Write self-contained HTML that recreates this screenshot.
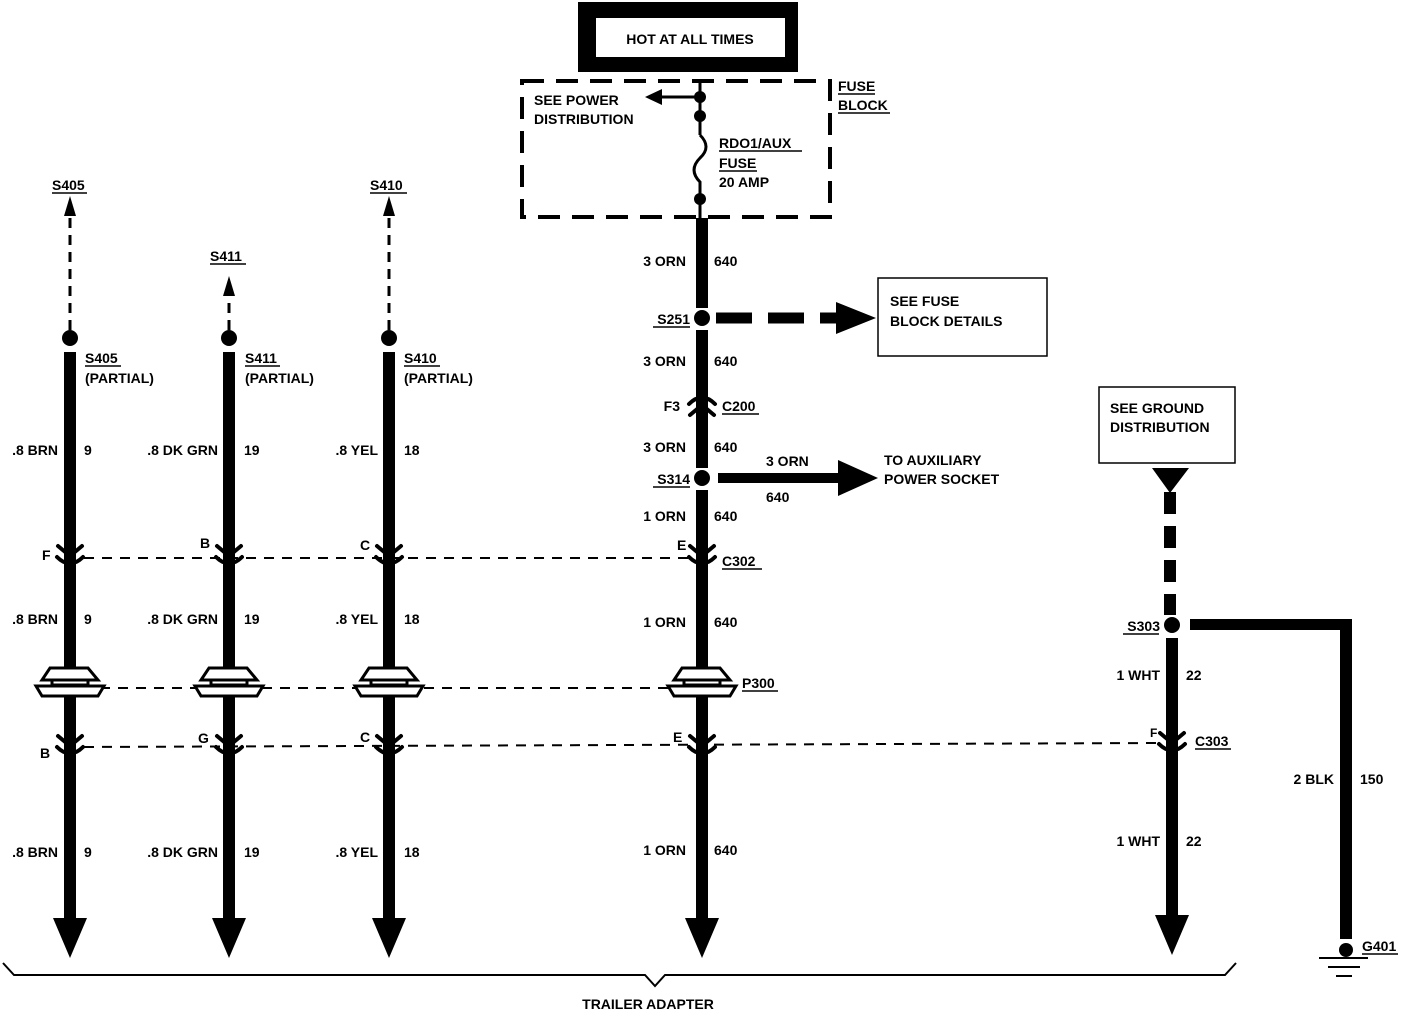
<!DOCTYPE html>
<html><head><meta charset="utf-8"><style>
html,body{margin:0;padding:0;background:#fff}
svg{display:block}
text{font-family:"Liberation Sans",sans-serif;font-weight:bold;font-size:14px;fill:#000}
</style></head><body>
<svg width="1408" height="1010" viewBox="0 0 1408 1010" xmlns="http://www.w3.org/2000/svg">
<defs>
<g id="cdown" fill="none" stroke="#000" stroke-width="4" stroke-linecap="round">
<path d="M-12,-10 L0,0 L12,-10"/>
<path d="M-13,1 Q0,14 13,1"/>
</g>
<g id="p300" fill="#fff" stroke="#000" stroke-width="3">
<path d="M-20,-18 L18,-18 L28,-6 L-28,-6 Z"/>
<rect x="-18" y="-6" width="36" height="5"/>
<path d="M-34,0 L34,0 L28,10 L-28,10 Z"/>
</g>
<g id="arr"><path d="M-17,0 L17,0 L0,40 Z" fill="#000"/></g>
</defs>

<!-- HOT AT ALL TIMES -->
<rect x="578" y="2" width="220" height="70" fill="#000"/>
<rect x="596" y="18" width="189" height="39" fill="#fff"/>
<text x="690" y="44" text-anchor="middle">HOT AT ALL TIMES</text>

<!-- Fuse block dashed -->
<rect x="522" y="81" width="308" height="136" fill="none" stroke="#000" stroke-width="4" stroke-dasharray="22,12"/>
<text x="838" y="91">FUSE</text><line x1="838" y1="94" x2="875" y2="94" stroke="#000" stroke-width="1.5"/>
<text x="838" y="110">BLOCK</text><line x1="838" y1="113" x2="890" y2="113" stroke="#000" stroke-width="1.5"/>
<text x="534" y="105">SEE POWER</text>
<text x="534" y="124">DISTRIBUTION</text>
<line x1="660" y1="97" x2="700" y2="97" stroke="#000" stroke-width="3"/>
<path d="M645,97 L662,89 L662,105 Z"/>
<line x1="700" y1="82" x2="700" y2="135" stroke="#000" stroke-width="3"/>
<path d="M700,135 Q712,147 700,158 Q688,170 700,182 L700,230" fill="none" stroke="#000" stroke-width="3"/>
<circle cx="700" cy="97" r="6"/><circle cx="700" cy="116" r="6"/><circle cx="700" cy="199" r="6"/>
<text x="719" y="148">RDO1/AUX</text><line x1="719" y1="151" x2="802" y2="151" stroke="#000" stroke-width="1.5"/>
<text x="719" y="168">FUSE</text><line x1="719" y1="171" x2="757" y2="171" stroke="#000" stroke-width="1.5"/>
<text x="719" y="187">20 AMP</text>

<!-- center wire -->
<rect x="696" y="218" width="12" height="90"/>
<circle cx="702" cy="318" r="8"/>
<rect x="696" y="330" width="12" height="138"/>
<circle cx="702" cy="478" r="8"/>
<rect x="696" y="490" width="12" height="430"/>
<use href="#arr" x="702" y="918"/>
<text x="686" y="266" text-anchor="end">3 ORN</text><text x="714" y="266">640</text>
<text x="690" y="324" text-anchor="end">S251</text><line x1="653" y1="327" x2="690" y2="327" stroke="#000" stroke-width="1.5"/>
<text x="686" y="366" text-anchor="end">3 ORN</text><text x="714" y="366">640</text>
<!-- C200 inverted -->
<g transform="translate(702,405) scale(1,-1)"><use href="#cdown"/></g>
<text x="680" y="411" text-anchor="end">F3</text>
<text x="722" y="411">C200</text><line x1="722" y1="414" x2="759" y2="414" stroke="#000" stroke-width="1.5"/>
<text x="686" y="452" text-anchor="end">3 ORN</text><text x="714" y="452">640</text>
<text x="690" y="484" text-anchor="end">S314</text><line x1="653" y1="487" x2="690" y2="487" stroke="#000" stroke-width="1.5"/>
<text x="686" y="521" text-anchor="end">1 ORN</text><text x="714" y="521">640</text>
<text x="686" y="627" text-anchor="end">1 ORN</text><text x="714" y="627">640</text>
<text x="686" y="855" text-anchor="end">1 ORN</text><text x="714" y="855">640</text>

<!-- S251 dashed arrow -->
<line x1="716" y1="318" x2="840" y2="318" stroke="#000" stroke-width="11" stroke-dasharray="36,16"/>
<path d="M836,302 L876,318 L836,334 Z"/>
<rect x="878" y="278" width="169" height="78" fill="#fff" stroke="#000" stroke-width="1.5"/>
<text x="890" y="306">SEE FUSE</text><text x="890" y="326">BLOCK DETAILS</text>

<!-- S314 arrow -->
<rect x="718" y="473" width="124" height="10"/>
<path d="M838,460 L878,478 L838,496 Z"/>
<text x="766" y="466">3 ORN</text><text x="766" y="502">640</text>
<text x="884" y="465">TO AUXILIARY</text><text x="884" y="484">POWER SOCKET</text>

<!-- left columns -->
<g id="colA">
<line x1="70" y1="330" x2="70" y2="212" stroke="#000" stroke-width="3" stroke-dasharray="10,7"/>
<path d="M70,196 L64,216 L76,216 Z"/>
<circle cx="70" cy="338" r="8"/>
<rect x="64" y="352" width="12" height="568"/>
<use href="#arr" x="70" y="918"/>
</g>
<g>
<line x1="229" y1="330" x2="229" y2="290" stroke="#000" stroke-width="3" stroke-dasharray="10,7"/>
<path d="M229,276 L223,296 L235,296 Z"/>
<circle cx="229" cy="338" r="8"/>
<rect x="223" y="352" width="12" height="568"/>
<use href="#arr" x="229" y="918"/>
</g>
<g>
<line x1="389" y1="330" x2="389" y2="212" stroke="#000" stroke-width="3" stroke-dasharray="10,7"/>
<path d="M389,196 L383,216 L395,216 Z"/>
<circle cx="389" cy="338" r="8"/>
<rect x="383" y="352" width="12" height="568"/>
<use href="#arr" x="389" y="918"/>
</g>

<text x="52" y="190">S405</text><line x1="52" y1="193" x2="87" y2="193" stroke="#000" stroke-width="1.5"/>
<text x="210" y="261">S411</text><line x1="210" y1="264" x2="246" y2="264" stroke="#000" stroke-width="1.5"/>
<text x="370" y="190">S410</text><line x1="370" y1="193" x2="407" y2="193" stroke="#000" stroke-width="1.5"/>

<text x="85" y="363">S405</text><line x1="85" y1="366" x2="121" y2="366" stroke="#000" stroke-width="1.5"/>
<text x="85" y="383">(PARTIAL)</text>
<text x="245" y="363">S411</text><line x1="245" y1="366" x2="280" y2="366" stroke="#000" stroke-width="1.5"/>
<text x="245" y="383">(PARTIAL)</text>
<text x="404" y="363">S410</text><line x1="404" y1="366" x2="440" y2="366" stroke="#000" stroke-width="1.5"/>
<text x="404" y="383">(PARTIAL)</text>

<g>
<text x="58" y="455" text-anchor="end">.8 BRN</text><text x="84" y="455">9</text>
<text x="218" y="455" text-anchor="end">.8 DK GRN</text><text x="244" y="455">19</text>
<text x="378" y="455" text-anchor="end">.8 YEL</text><text x="404" y="455">18</text>
<text x="58" y="624" text-anchor="end">.8 BRN</text><text x="84" y="624">9</text>
<text x="218" y="624" text-anchor="end">.8 DK GRN</text><text x="244" y="624">19</text>
<text x="378" y="624" text-anchor="end">.8 YEL</text><text x="404" y="624">18</text>
<text x="58" y="857" text-anchor="end">.8 BRN</text><text x="84" y="857">9</text>
<text x="218" y="857" text-anchor="end">.8 DK GRN</text><text x="244" y="857">19</text>
<text x="378" y="857" text-anchor="end">.8 YEL</text><text x="404" y="857">18</text>
</g>

<!-- C302 -->
<line x1="84" y1="558" x2="690" y2="558" stroke="#000" stroke-width="2" stroke-dasharray="10,8"/>
<use href="#cdown" x="70" y="556"/><use href="#cdown" x="229" y="556"/><use href="#cdown" x="389" y="556"/><use href="#cdown" x="702" y="556"/>
<text x="42" y="560">F</text><text x="200" y="548">B</text><text x="360" y="550">C</text><text x="677" y="550">E</text>
<text x="722" y="566">C302</text><line x1="722" y1="569" x2="762" y2="569" stroke="#000" stroke-width="1.5"/>

<!-- P300 -->
<line x1="100" y1="688" x2="672" y2="688" stroke="#000" stroke-width="2" stroke-dasharray="10,8"/>
<use href="#p300" x="70" y="686"/><use href="#p300" x="229" y="686"/><use href="#p300" x="389" y="686"/><use href="#p300" x="702" y="686"/>
<text x="742" y="688">P300</text><line x1="742" y1="691" x2="778" y2="691" stroke="#000" stroke-width="1.5"/>

<!-- C303 -->
<line x1="84" y1="747" x2="1160" y2="743" stroke="#000" stroke-width="2" stroke-dasharray="10,8"/>
<use href="#cdown" x="70" y="746"/><use href="#cdown" x="229" y="746"/><use href="#cdown" x="389" y="746"/><use href="#cdown" x="702" y="746"/><use href="#cdown" x="1172" y="743"/>
<text x="40" y="758">B</text><text x="198" y="743">G</text><text x="360" y="742">C</text><text x="673" y="742">E</text><text x="1150" y="737" style="font-size:12px">F</text>
<text x="1195" y="746">C303</text><line x1="1195" y1="749" x2="1231" y2="749" stroke="#000" stroke-width="1.5"/>

<!-- ground -->
<rect x="1099" y="387" width="136" height="76" fill="#fff" stroke="#000" stroke-width="1.5"/>
<text x="1110" y="413">SEE GROUND</text><text x="1110" y="432">DISTRIBUTION</text>
<path d="M1152,468 L1189,468 L1170,493 Z"/>
<line x1="1170" y1="492" x2="1170" y2="615" stroke="#000" stroke-width="12" stroke-dasharray="22,12"/>
<circle cx="1172" cy="625" r="8"/>
<text x="1160" y="631" text-anchor="end">S303</text><line x1="1123" y1="634" x2="1159" y2="634" stroke="#000" stroke-width="1.5"/>
<rect x="1166" y="638" width="12" height="282"/>
<use href="#arr" x="1172" y="915"/>
<rect x="1190" y="619" width="162" height="11"/>
<rect x="1340" y="619" width="12" height="320"/>
<circle cx="1346" cy="950" r="7"/>
<line x1="1319" y1="958" x2="1368" y2="958" stroke="#000" stroke-width="2"/>
<line x1="1328" y1="967" x2="1360" y2="967" stroke="#000" stroke-width="2"/>
<line x1="1336" y1="976" x2="1352" y2="976" stroke="#000" stroke-width="2"/>
<text x="1362" y="951">G401</text><line x1="1362" y1="954" x2="1398" y2="954" stroke="#000" stroke-width="1.5"/>
<text x="1160" y="680" text-anchor="end">1 WHT</text><text x="1186" y="680">22</text>
<text x="1160" y="846" text-anchor="end">1 WHT</text><text x="1186" y="846">22</text>
<text x="1334" y="784" text-anchor="end">2 BLK</text><text x="1360" y="784">150</text>

<!-- brace -->
<polyline points="3,963 14,975 645,975 655,986 665,975 1225,975 1236,963" fill="none" stroke="#000" stroke-width="2"/>
<text x="648" y="1009" text-anchor="middle">TRAILER ADAPTER</text>
</svg>
</body></html>
